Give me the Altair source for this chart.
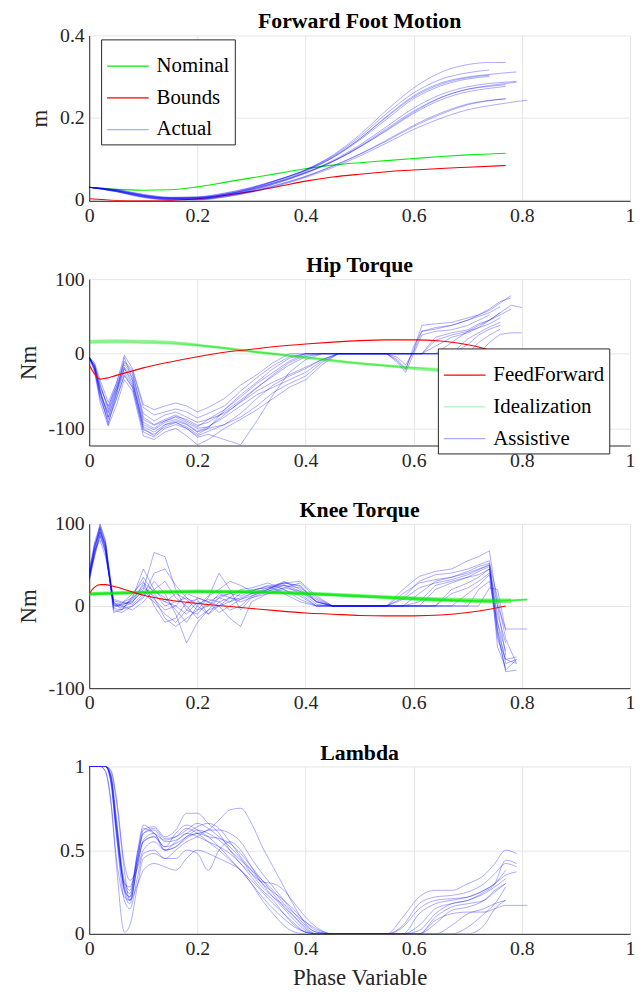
import altair as alt
import pandas as pd

FONT = "Liberation Serif"

X_TICKS = [0, 0.2, 0.4, 0.6, 0.8, 1]

# ---------------- Panel 1: Forward Foot Motion ----------------
foot_ref_x = [0, 0.05, 0.1, 0.15, 0.2, 0.25, 0.3, 0.35, 0.4, 0.45, 0.5, 0.55, 0.6, 0.65, 0.7, 0.77]
foot_nominal = [0.030, 0.025, 0.023, 0.024, 0.031, 0.042, 0.053, 0.064, 0.075, 0.084, 0.090, 0.095, 0.100, 0.105, 0.109, 0.113]
foot_bounds = [0.002, -0.002, -0.003, -0.002, 0.002, 0.010, 0.020, 0.032, 0.045, 0.055, 0.062, 0.068, 0.072, 0.076, 0.079, 0.083]

foot_x = [0, 0.05, 0.1, 0.15, 0.2, 0.25, 0.3, 0.35, 0.4, 0.45, 0.5, 0.55, 0.6, 0.65, 0.7, 0.74, 0.77, 0.79, 0.81]
foot_actual = [
    [0.030, 0.022, 0.009, 0.003, 0.004, 0.012, 0.027, 0.048, 0.073, 0.108, 0.158, 0.218, 0.272, 0.310, 0.329, 0.334, 0.334, None, None],
    [0.030, 0.023, 0.010, 0.004, 0.005, 0.013, 0.028, 0.048, 0.072, 0.106, 0.153, 0.210, 0.260, 0.293, 0.309, 0.316, None, None, None],
    [0.030, 0.022, 0.009, 0.003, 0.003, 0.011, 0.025, 0.045, 0.069, 0.102, 0.148, 0.203, 0.253, 0.284, 0.299, 0.305, 0.309, 0.311, None],
    [0.030, 0.024, 0.012, 0.005, 0.006, 0.015, 0.029, 0.049, 0.072, 0.104, 0.148, 0.201, 0.250, 0.281, 0.297, 0.303, None, None, None],
    [0.030, 0.025, 0.013, 0.006, 0.007, 0.016, 0.030, 0.049, 0.071, 0.102, 0.145, 0.196, 0.246, 0.277, 0.294, 0.300, None, None, None],
    [0.030, 0.021, 0.008, 0.002, 0.002, 0.010, 0.023, 0.042, 0.066, 0.095, 0.133, 0.178, 0.223, 0.256, 0.275, 0.283, 0.286, 0.288, None],
    [0.030, 0.020, 0.007, 0.001, 0.001, 0.009, 0.022, 0.041, 0.064, 0.092, 0.128, 0.170, 0.213, 0.248, 0.269, 0.278, 0.283, 0.286, None],
    [0.030, 0.023, 0.011, 0.004, 0.005, 0.013, 0.026, 0.044, 0.066, 0.093, 0.128, 0.168, 0.210, 0.243, 0.263, 0.271, 0.276, None, None],
    [0.030, 0.022, 0.010, 0.003, 0.004, 0.012, 0.025, 0.043, 0.065, 0.093, 0.130, 0.173, 0.216, 0.249, 0.269, 0.276, 0.280, None, None],
    [0.030, 0.020, 0.006, 0.000, 0.000, 0.007, 0.019, 0.036, 0.056, 0.081, 0.110, 0.143, 0.178, 0.208, 0.231, 0.241, 0.246, None, None],
    [0.030, 0.019, 0.005, -0.001, -0.001, 0.006, 0.018, 0.034, 0.054, 0.078, 0.106, 0.138, 0.171, 0.198, 0.219, 0.229, 0.235, 0.239, 0.242],
    [0.030, 0.021, 0.007, 0.001, 0.001, 0.008, 0.020, 0.037, 0.057, 0.082, 0.111, 0.145, 0.181, 0.211, 0.233, 0.242, 0.245, None, None],
]

# ---------------- Panel 2: Hip Torque ----------------
hip_ff_x = [0, 0.01, 0.02, 0.03, 0.05, 0.07, 0.1, 0.15, 0.2, 0.25, 0.3, 0.35, 0.4, 0.45, 0.5, 0.55, 0.6, 0.65, 0.7, 0.73, 0.76]
hip_ff = [-15, -27, -34, -33, -29, -25, -19, -11, -4, 2, 6, 10, 13, 15.5, 17.5, 18.5, 18.5, 17, 12, 7, 0]

hip_ideal_x = [0, 0.05, 0.1, 0.15, 0.2, 0.25, 0.3, 0.35, 0.4, 0.45, 0.5, 0.55, 0.6, 0.65, 0.7, 0.75, 0.78]
hip_ideal = [
    [18, 18.5, 18, 16.5, 13, 8.5, 4, 0, -4, -8, -12, -15, -18, -20, -22, -24, -25],
    [16, 16.5, 16, 14.5, 11.5, 7.5, 3, -1, -5, -9, -13, -16, -19, -22, -24, -26, None],
    [14, 14.5, 14, 13, 10.5, 6.5, 2, -2, -6.5, -10.5, -14, -17, -21, -24, -26, -27, -28],
    [17, 17.5, 17, 15.5, 12, 8, 3.5, -0.5, -4.5, -8.5, -12.5, -15.5, -18.5, -21, -23, -25, None],
    [15, 15.5, 15, 14, 11, 7, 2.5, -1.5, -5.5, -9.5, -13.5, -16.5, -20, -23, -25, None, None],
]

hip_x = [0, 0.01, 0.02, 0.035, 0.05, 0.065, 0.08,
         0.1, 0.12, 0.14, 0.16, 0.18, 0.2, 0.22,
         0.25, 0.28, 0.31, 0.34, 0.37, 0.4, 0.43, 0.46,
         0.55, 0.57, 0.585, 0.6, 0.615,
         0.64, 0.67, 0.7, 0.72, 0.74, 0.76, 0.78, 0.8]
hip_assist = [
    [-5, -18, -50, -95, -55, -5, -35] + [-100, -110, -95, -90, -95, -105, -100] + [-75, -55, -38, -20, -6, 0, 0, 0] + [0, -8, -20, 5, 38] + [40, 42, 48, 52, 58, 68, 78, None],
    [-5, -15, -40, -75, -45, -12, -25] + [-85, -95, -88, -82, -90, -98, -88] + [-80, -65, -50, -38, -28, -18, -8, 0] + [0, -5, -15, 3, 30] + [33, 38, 45, 50, 55, 63, None, None],
    [-5, -22, -60, -88, -60, -30, -45] + [-105, -112, -100, -95, -100, -112, -108] + [-115, -122, -90, -55, -25, -8, 0, 0] + [0, -10, -22, 10, 30] + [35, 38, 45, 52, 60, 70, 75, None],
    [-5, -20, -55, -80, -50, -20, -40] + [-92, -100, -90, -85, -92, -100, -98] + [-85, -70, -55, -45, -35, -25, -10, 0] + [0, 0, 0, 0, 0] + [0, 15, 30, 38, 45, 55, None, None],
    [-5, -12, -35, -65, -40, -2, -20] + [-68, -75, -70, -66, -70, -78, -72] + [-60, -42, -28, -12, 0, 0, 0, 0] + [0, 0, 0, 0, 0] + [18, 25, 30, 35, 40, 48, None, None],
    [-5, -25, -65, -97, -70, -35, -50] + [-110, -115, -105, -100, -110, -122, -115] + [-100, -88, -75, -60, -45, -35, -15, 0] + [0, 0, 0, 0, 0] + [0, 0, 20, 28, 36, 42, None, None],
    [-5, -18, -45, -70, -45, -15, -28] + [-80, -90, -82, -78, -85, -92, -88] + [-75, -58, -40, -25, -10, 0, 0, 0] + [0, 0, 0, 0, 0] + [0, 0, 12, 25, 33, 38, None, None],
    [-5, -16, -48, -85, -55, -25, -42] + [-98, -105, -95, -92, -98, -108, -100] + [-95, -80, -60, -42, -30, -20, -8, 0] + [0, 0, 0, 0, 0] + [22, 28, 32, 40, 45, 52, 60, None],
    [-5, -20, -52, -78, -48, -18, -32] + [-88, -96, -90, -84, -88, -96, -92] + [-78, -62, -45, -30, -15, -4, 0, 0] + [0, -12, -25, 0, 25] + [30, 32, 38, 45, 52, None, None, None],
    [-5, -22, -58, -92, -62, -28, -45] + [-102, -108, -98, -92, -100, -110, -104] + [-95, -85, -70, -52, -40, -30, -12, 0] + [0, 0, 0, 0, 0] + [0, 0, 0, 15, 25, 33, None, None],
    [-5, -15, -42, -72, -40, -10, -22] + [-72, -82, -78, -74, -78, -86, -80] + [-70, -50, -32, -16, -4, 0, 0, 0] + [0, 0, 0, 0, 0] + [0, 0, 0, 0, 15, 26, 28, 28],
    [-5, -18, -50, -85, -52, -20, -36] + [-95, -102, -92, -88, -94, -104, -98] + [-82, -64, -46, -28, -12, -2, 0, 0] + [0, 0, 0, 0, 0] + [10, 22, 28, 35, 45, 55, 65, 62],
]

# ---------------- Panel 3: Knee Torque ----------------
knee_ff_x = [0, 0.01, 0.02, 0.03, 0.05, 0.08, 0.1, 0.15, 0.2, 0.25, 0.3, 0.35, 0.4, 0.45, 0.5, 0.55, 0.6, 0.65, 0.7, 0.74, 0.77]
knee_ff = [15, 23, 26, 26, 23, 17, 13, 7, 3, 0, -3, -6, -8.5, -10, -11.5, -12, -12, -11, -8, -4, 0]

knee_ideal_x = [0, 0.1, 0.2, 0.3, 0.4, 0.5, 0.6, 0.7, 0.75, 0.78, 0.81]
knee_ideal = [
    [15, 17, 18, 17.5, 15.5, 12.5, 9.5, 7, 6.5, 7, 8],
    [14, 16, 17, 16.5, 14.5, 11.5, 8, 6, 5.5, None, None],
    [16, 18, 19, 18.5, 16.5, 13.5, 10.5, 8.5, 8, 8, None],
    [13.5, 15.5, 16.5, 16, 14, 11, 7.5, 5, 4.5, 5, None],
    [14.5, 16.5, 17.5, 17, 15, 12, 9, 6.5, 6, 6.5, 7.5],
]

knee_x = [0, 0.01, 0.02, 0.03, 0.045, 0.06, 0.08,
          0.1, 0.12, 0.14, 0.16, 0.18, 0.2, 0.22,
          0.24, 0.26, 0.28, 0.3, 0.33, 0.36, 0.39, 0.42,
          0.45, 0.55, 0.58, 0.61, 0.64,
          0.67, 0.7, 0.72, 0.74, 0.755, 0.77, 0.79, 0.81]
knee_assist = [
    [35, 70, 100, 80, 5, -5, 10] + [45, 20, 5, 0, -10, 5, 0] + [10, 5, 15, 20, 22, 28, 25, 5] + [0, 0, 20, 36, 42] + [45, 55, 60, 67, 0, -28, -28, -28],
    [32, 65, 95, 70, 0, 2, 5] + [20, 65, 60, 20, -5, -10, 5] + [12, 15, 18, 15, 20, 25, 15, 0] + [0, 0, 10, 30, 38] + [40, 45, 50, 55, -20, -70, -65, None],
    [40, 75, 90, 75, -5, -8, 0] + [10, 30, 15, -10, -45, -20, -5] + [0, 5, 10, 15, 18, 22, 28, 10] + [0, 0, 0, 15, 30] + [35, 40, 45, 50, -30, -80, -78, None],
    [30, 60, 85, 65, 3, 0, 8] + [25, 10, -15, -25, -15, -5, 10] + [40, 20, -5, 10, 15, 20, 12, 0] + [0, 0, 0, 0, 20] + [28, 35, 42, 48, -50, -75, None, None],
    [38, 68, 80, 60, 8, 5, 2] + [15, 5, -10, -20, -5, 10, 5] + [0, -15, -25, 5, 15, 22, 18, 2] + [0, 0, 0, 0, 0] + [20, 28, 35, 45, 0, -60, None, None],
    [36, 72, 92, 72, -3, -5, 12] + [35, 15, 0, 5, 10, 0, -10] + [5, 10, 8, 12, 20, 30, 20, 5] + [0, 0, 0, 0, 0] + [0, 15, 25, 38, -40, -65, -62, None],
    [33, 62, 88, 68, 2, 0, -5] + [5, 20, 30, 10, 0, -15, -5] + [10, 15, 12, 18, 25, 15, 5, 0] + [0, 0, 0, 0, 0] + [0, 0, 20, 30, -20, -55, None, None],
    [42, 78, 98, 78, -2, 3, 15] + [30, 0, -20, -15, 5, 8, -10] + [0, 10, 20, 22, 28, 20, 8, 0] + [0, 0, 15, 28, 32] + [35, 42, 48, 52, 10, -40, -70, None],
    [35, 70, 94, 74, 6, 4, 10] + [22, 12, 5, 15, 8, -5, 0] + [15, 10, 5, 10, 18, 25, 22, 8] + [0, 0, 0, 0, 0] + [15, 22, 30, 40, -10, -45, None, None],
    [37, 66, 90, 70, -8, -4, 0] + [12, 40, 45, 25, 10, 2, 8] + [5, -5, 0, 12, 20, 28, 30, 12] + [0, 0, 0, 5, 25] + [30, 35, 38, 45, -30, -65, -70, None],
    [34, 64, 86, 66, 4, 2, 6] + [18, 8, -5, 0, 15, 10, 5] + [-8, 0, 8, 15, 22, 26, 18, 6] + [0, 0, 0, 0, 0] + [0, 0, 0, 22, 20, -30, None, None],
    [39, 74, 96, 76, 1, -2, 4] + [28, 18, 10, -5, -20, 0, 12] + [20, 30, 25, 18, 24, 28, 24, 5] + [0, 0, 8, 22, 28] + [32, 38, 44, 50, -35, -78, -65, None],
]

# ---------------- Panel 4: Lambda ----------------
lam_x = [0, 0.02, 0.03, 0.04, 0.05, 0.065, 0.075, 0.09, 0.1,
         0.12, 0.14, 0.16, 0.18, 0.2, 0.22, 0.24, 0.26, 0.28,
         0.3, 0.32, 0.34, 0.36, 0.38, 0.4, 0.42, 0.45,
         0.55, 0.58, 0.61, 0.64, 0.67, 0.7, 0.73, 0.75, 0.77, 0.79, 0.81]
lam_vals = [
    [1, 1, 1, 0.92, 0.62, 0.3, 0.28, 0.45, 0.55] + [0.58, 0.5, 0.52, 0.58, 0.6, 0.62, 0.68, 0.74, 0.75] + [0.66, 0.52, 0.4, 0.28, 0.16, 0.06, 0.01, 0] + [0, 0, 0.05, 0.15, 0.18, 0.2, 0.24, 0.28, 0.33, None, None],
    [1, 1, 1, 0.95, 0.7, 0.25, 0.18, 0.45, 0.62] + [0.64, 0.58, 0.62, 0.72, 0.72, 0.66, 0.6, 0.5, 0.42] + [0.34, 0.26, 0.2, 0.12, 0.05, 0.01, 0, 0] + [0, 0.1, 0.22, 0.26, 0.26, 0.3, 0.35, 0.42, 0.5, 0.48, None],
    [1, 1, 0.97, 0.78, 0.42, 0.01, 0.05, 0.3, 0.45] + [0.48, 0.45, 0.5, 0.55, 0.58, 0.62, 0.62, 0.6, 0.55] + [0.45, 0.36, 0.28, 0.2, 0.12, 0.05, 0.01, 0] + [0, 0.05, 0.18, 0.22, 0.23, 0.25, 0.3, 0.36, 0.42, 0.4, None],
    [1, 1, 1, 0.9, 0.6, 0.2, 0.15, 0.35, 0.48] + [0.5, 0.45, 0.45, 0.5, 0.48, 0.38, 0.5, 0.55, 0.5] + [0.4, 0.3, 0.22, 0.15, 0.08, 0.02, 0, 0] + [0, 0, 0.12, 0.18, 0.2, 0.22, 0.26, 0.3, 0.35, 0.37, None],
    [1, 1, 1, 0.97, 0.8, 0.38, 0.2, 0.3, 0.38] + [0.42, 0.4, 0.38, 0.45, 0.5, 0.48, 0.45, 0.42, 0.38] + [0.3, 0.22, 0.15, 0.09, 0.04, 0.01, 0, 0] + [0, 0, 0, 0.08, 0.12, 0.13, 0.13, 0.15, 0.17, 0.17, 0.17],
    [1, 1, 1, 0.93, 0.65, 0.28, 0.22, 0.5, 0.65] + [0.6, 0.52, 0.6, 0.65, 0.62, 0.58, 0.52, 0.45, 0.38] + [0.3, 0.2, 0.12, 0.05, 0.01, 0, 0, 0] + [0, 0, 0, 0.1, 0.16, 0.18, 0.2, 0.25, 0.3, None, None],
    [1, 1, 1, 0.94, 0.66, 0.3, 0.24, 0.48, 0.6] + [0.62, 0.55, 0.56, 0.6, 0.64, 0.66, 0.63, 0.55, 0.46] + [0.38, 0.3, 0.25, 0.2, 0.14, 0.07, 0.02, 0] + [0, 0, 0, 0, 0.05, 0.12, 0.15, 0.18, 0.2, None, None],
    [1, 1, 0.97, 0.8, 0.46, 0.22, 0.2, 0.42, 0.56] + [0.6, 0.5, 0.55, 0.6, 0.58, 0.55, 0.52, 0.48, 0.42] + [0.36, 0.31, 0.3, 0.26, 0.18, 0.1, 0.04, 0] + [0, 0, 0, 0, 0, 0.04, 0.12, 0.18, 0.28, None, None],
    [1, 1, 1, 0.91, 0.6, 0.26, 0.22, 0.46, 0.6] + [0.63, 0.57, 0.58, 0.62, 0.66, 0.63, 0.58, 0.52, 0.45] + [0.36, 0.28, 0.22, 0.17, 0.1, 0.03, 0, 0] + [0, 0, 0.02, 0.12, 0.18, 0.2, 0.25, 0.3, 0.44, 0.42, None],
    [1, 1, 1, 0.95, 0.68, 0.32, 0.26, 0.5, 0.63] + [0.6, 0.56, 0.58, 0.63, 0.6, 0.55, 0.5, 0.44, 0.38] + [0.32, 0.25, 0.18, 0.12, 0.06, 0.01, 0, 0] + [0, 0, 0, 0.06, 0.14, 0.16, 0.2, 0.26, 0.3, None, None],
    [1, 1, 1, 0.93, 0.64, 0.27, 0.2, 0.42, 0.55] + [0.58, 0.52, 0.54, 0.58, 0.62, 0.6, 0.56, 0.5, 0.44] + [0.38, 0.32, 0.26, 0.18, 0.12, 0.07, 0.03, 0] + [0, 0, 0, 0, 0, 0, 0.05, 0.15, 0.2, None, None],
    [1, 1, 1, 0.98, 0.82, 0.42, 0.32, 0.4, 0.5] + [0.55, 0.5, 0.52, 0.57, 0.6, 0.58, 0.57, 0.54, 0.48] + [0.4, 0.32, 0.24, 0.16, 0.1, 0.04, 0, 0] + [0, 0.04, 0.15, 0.2, 0.21, 0.22, 0.26, 0.3, 0.38, None, None],
]

BLUE = "rgba(0,0,255,0.33)"
GREEN = "#00ee00"
GREEN_T = "rgba(0,230,0,0.32)"
RED = "#ff0000"


def frame(xs, traces, series, prefix):
    rows = []
    for i, ys in enumerate(traces):
        for x, y in zip(xs, ys):
            if y is not None:
                rows.append({"x": x, "y": y, "trace": f"{prefix}{i}", "series": series})
    return pd.DataFrame(rows)


def make_panel(title, layers, ydom, yvals, ytitle, xtitle, height, domain, rng, legend):
    x_axis = alt.Axis(values=X_TICKS, labelExpr="datum.value + ''", labelFlush=False,
                      title=xtitle)
    y_axis = alt.Axis(values=yvals, labelExpr="datum.value + ''", title=ytitle)
    charts = []
    for df, width, interp in layers:
        charts.append(
            alt.Chart(df).mark_line(strokeWidth=width, interpolate=interp, clip=True).encode(
                x=alt.X("x:Q", scale=alt.Scale(domain=[0, 1], nice=False, zero=False), axis=x_axis),
                y=alt.Y("y:Q", scale=alt.Scale(domain=ydom, nice=False, zero=False), axis=y_axis),
                color=alt.Color("series:N", scale=alt.Scale(domain=domain, range=rng), legend=legend),
                detail="trace:N",
            )
        )
    return alt.layer(*charts).properties(title=title, width=546, height=height)


def legend_at(lx, ly):
    return alt.Legend(title=None, orient="none", legendX=lx, legendY=ly,
                      symbolType="stroke", symbolSize=1764, symbolStrokeWidth=1.2,
                      labelFont=FONT, labelFontSize=21, labelColor="black",
                      labelOffset=7, rowPadding=-5, padding=5,
                      strokeColor="#262626", fillColor="white")


p1 = make_panel(
    "Forward Foot Motion",
    [
        (frame(foot_ref_x, [foot_nominal], "Nominal", "n"), 1.1, "monotone"),
        (frame(foot_ref_x, [foot_bounds], "Bounds", "b"), 1.1, "monotone"),
        (frame(foot_x, foot_actual, "Actual", "a"), 1, "monotone"),
    ],
    [-0.003, 0.4], [0, 0.2, 0.4], "m", None, 167,
    ["Nominal", "Bounds", "Actual"], [GREEN, RED, BLUE], legend_at(12, 4),
)

p2 = make_panel(
    "Hip Torque",
    [
        (frame(hip_x, hip_assist, "Assistive", "h"), 1, "linear"),
        (frame(hip_ideal_x, hip_ideal, "Idealization", "i"), 1.3, "monotone"),
        (frame(hip_ff_x, [hip_ff], "FeedForward", "f"), 1.1, "monotone"),
    ],
    [-123, 100], [-100, 0, 100], "Nm", None, 168,
    ["FeedForward", "Idealization", "Assistive"], [RED, GREEN_T, BLUE], legend_at(352, 70),
)

p3 = make_panel(
    "Knee Torque",
    [
        (frame(knee_x, knee_assist, "Assistive", "k"), 1, "linear"),
        (frame(knee_ideal_x, knee_ideal, "Idealization", "i"), 1.6, "monotone"),
        (frame(knee_ff_x, [knee_ff], "FeedForward", "f"), 1.1, "monotone"),
    ],
    [-100, 100], [-100, 0, 100], "Nm", None, 166,
    ["FeedForward", "Idealization", "Assistive"], [RED, "rgba(0,235,0,0.55)", BLUE], None,
)

p4 = make_panel(
    "Lambda",
    [
        (frame(lam_x, lam_vals, "Assistive", "l"), 1, "monotone"),
    ],
    [0, 1], [0, 0.5, 1], None, "Phase Variable", 169,
    ["Assistive"], [BLUE], None,
)

chart = alt.vconcat(p1, p2, p3, p4, spacing=29).resolve_scale(
    x="independent", y="independent", color="independent"
).properties(
    padding={"left": 9, "top": -2, "right": 0, "bottom": -5}
).configure_view(
    stroke=None
).configure_axis(
    labelFont=FONT, labelFontSize=20, labelColor="#262626",
    titleFont=FONT, titleFontSize=23, titleFontWeight="normal", titleColor="#262626",
    domainColor="#262626", domainWidth=1, gridColor="#e6e6e6", gridWidth=1,
    ticks=False, labelPadding=5, titlePadding=8,
).configure_title(
    font=FONT, fontSize=22, fontWeight="bold", color="black", offset=-8, anchor="middle"
)

chart.save("out.html", embed_options={"renderer": "svg", "actions": False})
